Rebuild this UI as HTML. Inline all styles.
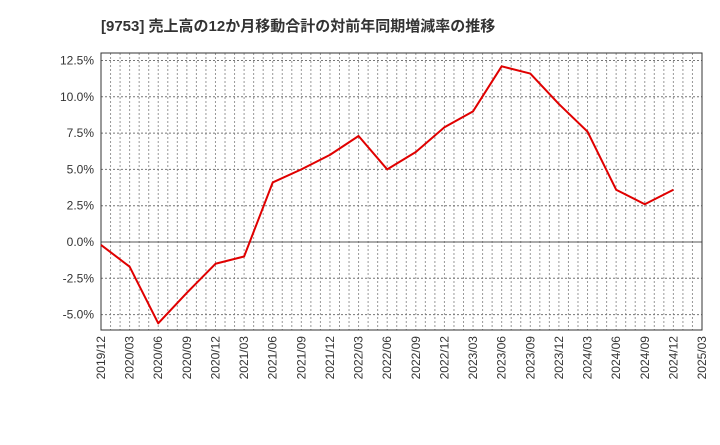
<!DOCTYPE html>
<html><head><meta charset="utf-8"><style>
body{margin:0;background:#fff;width:720px;height:440px;overflow:hidden;font-family:"Liberation Sans","Noto Sans CJK JP",sans-serif}
</style></head><body>
<svg id="chart" width="720" height="440" xmlns="http://www.w3.org/2000/svg">
<text x="101" y="31" font-size="15" font-weight="bold" fill="#333" font-family="Liberation Sans, Noto Sans CJK JP, sans-serif">[9753]  売上高の12か月移動合計の対前年同期増減率の推移</text>
<g id="grid"></g><g id="axes"></g><g id="series"></g>
</svg>
<script>
const categories=["2019/12","2020/03","2020/06","2020/09","2020/12","2021/03","2021/06","2021/09","2021/12","2022/03","2022/06","2022/09","2022/12","2023/03","2023/06","2023/09","2023/12","2024/03","2024/06","2024/09","2024/12"];
const xTickLabels=["2019/12","2020/03","2020/06","2020/09","2020/12","2021/03","2021/06","2021/09","2021/12","2022/03","2022/06","2022/09","2022/12","2023/03","2023/06","2023/09","2023/12","2024/03","2024/06","2024/09","2024/12","2025/03"];
const values=[-0.2,-1.7,-5.6,-3.5,-1.5,-1.0,4.1,5.0,6.0,7.3,5.0,6.2,7.9,9.0,12.1,11.6,9.5,7.6,3.6,2.6,3.6];
const yTicks=[12.5,10.0,7.5,5.0,2.5,0.0,-2.5,-5.0];
const L=101,R=702,T=53,B=330;
const y0=242,ppu=36.3/2.5;
const ys=v=>y0-v*ppu;
const stepQ=(R-L)/21;
const xs=i=>L+i*stepQ;
const NS="http://www.w3.org/2000/svg";
function mk(tag,attrs,parent){const e=document.createElementNS(NS,tag);for(const k in attrs)e.setAttribute(k,attrs[k]);parent.appendChild(e);return e;}
const grid=document.getElementById('grid'),axes=document.getElementById('axes'),series=document.getElementById('series');
for(let m=1;m<63;m++){const x=L+m*stepQ/3;
 const g=mk('line',{x1:x,x2:x,y1:T,y2:B,stroke:'#999','stroke-width':1,'stroke-dasharray':'2,2'},grid);
 
 }
yTicks.forEach(v=>{const y=ys(v);
 const g=mk('line',{x1:L,x2:R,y1:y,y2:y,stroke:v===0?'#555':'#777','stroke-width':1,'stroke-dasharray':v===0?'':'2,2'},grid);
 
 
 const t=mk('text',{x:L-7,y:y+4,'text-anchor':'end','font-size':12,fill:'#333'},axes);
 
 
 t.textContent=v.toFixed(1)+'%';});
const fr=mk('rect',{x:L,y:T,width:R-L,height:B-T,fill:'none',stroke:'#333','stroke-width':1},axes);


xTickLabels.forEach((lab,i)=>{const x=xs(i);
 const t=mk('text',{transform:`translate(${x+4},${B+6}) rotate(-90)`,'text-anchor':'end','font-size':12,fill:'#333'},axes);
 
 
 t.textContent=lab;});
const p=mk('polyline',{points:values.map((v,i)=>xs(i)+','+ys(v)).join(' '),fill:'none',stroke:'#e00000','stroke-width':2,'stroke-linejoin':'round'},series);


</script>
</body></html>
